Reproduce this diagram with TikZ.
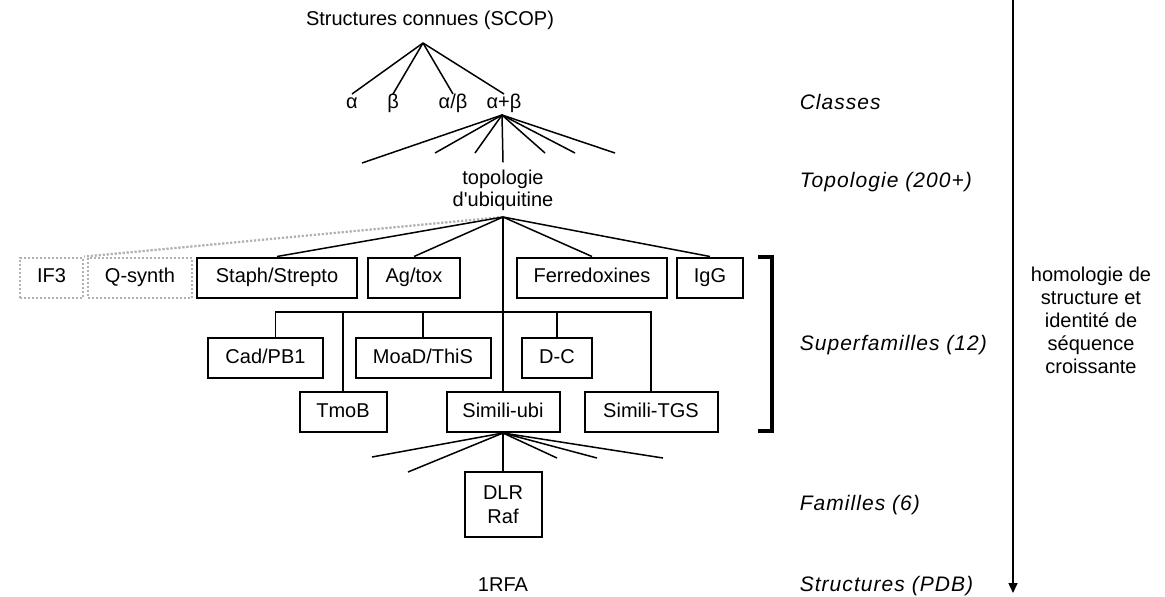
\documentclass[tikz,border=0pt]{standalone}
\usepackage{fontspec}
\setmainfont{Liberation Sans}[Ligatures=TeXOff]
\newfontfamily\levelfont{Liberation Sans}[LetterSpace=5]
\usetikzlibrary{arrows.meta}
\tikzset{
    bbox/.style={draw,line width=1pt,inner sep=0pt,minimum height=20pt,font=\fontsize{10}{12}\selectfont},
    sbox/.style={bbox,text height=7.2pt,text depth=2pt},
    dbox/.style={sbox,draw=gray!60,densely dotted},
    dline/.style={draw=gray!60,densely dotted,line width=1pt},
    tt/.style={inner sep=0pt,font=\fontsize{10}{12}\selectfont},
    greek/.style={tt,anchor=north,text height=7pt,text depth=2pt},
    lvl/.style={anchor=west,inner sep=0pt,font=\levelfont\itshape\fontsize{10.5}{12}\selectfont},
}
\begin{document}
\begin{tikzpicture}[x=0.5pt,y=-0.5pt,line width=0.75pt]
\useasboundingbox (0,0) rectangle (1165,596);
% top of the tree
\node[tt] (scop) at (430,20) {Structures connues (SCOP)};
\coordinate (top) at (423,43);
\node[greek] (a)  at (352,94) {α};
\node[greek] (b)  at (393,94) {β};
\node[greek] (ab) at (453,94) {α/β};
\node[greek] (apb) at (504,94) {α+β};
\foreach \n in {a,b,ab,apb}
    \draw (top) -- (\n.north);
\coordinate (abx) at (502,115);
\node[tt,inner sep=3.3pt,align=center] (topo) at (503,190) {topologie\\[-1pt]d'ubiquitine};
\draw (abx) -- (topo.north);
\foreach \x/\y [count=\i] in {362/163,435/153,475/153,545/153,575/153,615/153} {
    \coordinate (t\i) at (\x,\y);
    \draw (abx) -- (t\i);
}
% superfamilies
\coordinate (ubi) at (503,217);
\node[dbox,minimum width=31.5pt] (if3)  at (51.5,277.5) {IF3};
\node[dbox,minimum width=52pt]   (qsyn) at (140,277.5) {Q-synth};
\node[sbox,minimum width=80pt]   (staph) at (277,277.5) {Staph/Strepto};
\node[sbox,minimum width=46pt]   (agtox) at (414,277.5) {Ag/tox};
\node[sbox,minimum width=75pt]   (ferre) at (592,277.5) {Ferredoxines};
\node[sbox,minimum width=33pt]   (igg)  at (710,277.5) {IgG};
\draw[dline] (ubi) -- (if3.north east);
\draw[dline] (ubi) -- (qsyn.north west);
\foreach \n in {staph,agtox,ferre,igg}
    \draw (ubi) -- (\n.north);
\node[sbox,minimum width=57.5pt] (cad)  at (265.5,358) {Cad/PB1};
\node[sbox,minimum width=67.5pt] (moad) at (423,358) {MoaD/ThiS};
\node[sbox,minimum width=35pt]   (dc)   at (557,358) {D-C};
\node[sbox,minimum width=43.5pt] (tmob) at (343,412) {TmoB};
\node[sbox,minimum width=56.5pt] (sub)  at (503,412) {Simili-ubi};
\node[sbox,minimum width=66.5pt] (tgs)  at (651,412) {Simili-TGS};
\coordinate (bar) at (503,312);
\draw ([xshift=5pt]cad.north) |- (bar) -| (tgs.north);
\foreach \n in {tmob,moad,dc}
    \draw (\n.north) -- (\n.north |- bar);
\draw (ubi) -- (sub.north);
\draw[line width=2pt] (758,257) -- (772,257) -- (772,431) -- (758,431);
% families
\node[bbox,minimum width=38.5pt,minimum height=32.5pt,align=center] (dlr) at (503,504.5) {DLR\\Raf};
\draw (sub.south) -- (dlr.north);
\foreach \x/\y [count=\i] in {372/457,408/472,557/458,597/458,663/458} {
    \coordinate (f\i) at (\x,\y);
    \draw (sub.south) -- (f\i);
}
\node[tt] (rfa) at (503,585) {1RFA};
% levels
\node[lvl] (lclass) at (799,102) {Classes};
\node[lvl] (ltopo)  at (799,182) {Topologie (200+)};
\node[lvl] (lsup)   at (799,345) {Superfamilles (12)};
\node[lvl] (lfam)   at (799,505) {Familles (6)};
\node[lvl] (lpdb)   at (799,586) {Structures (PDB)};
\coordinate (axtop) at (1013,0);
\coordinate (axend) at (1013,593);
\draw[-{Triangle[length=5pt,width=4.5pt]}] (axtop) -- (axend);
\node[tt,align=center,font=\fontsize{10}{11.5}\selectfont] (homo) at (1091,320)
    {homologie de\\structure et\\identité de\\séquence\\croissante};
\end{tikzpicture}
\end{document}
